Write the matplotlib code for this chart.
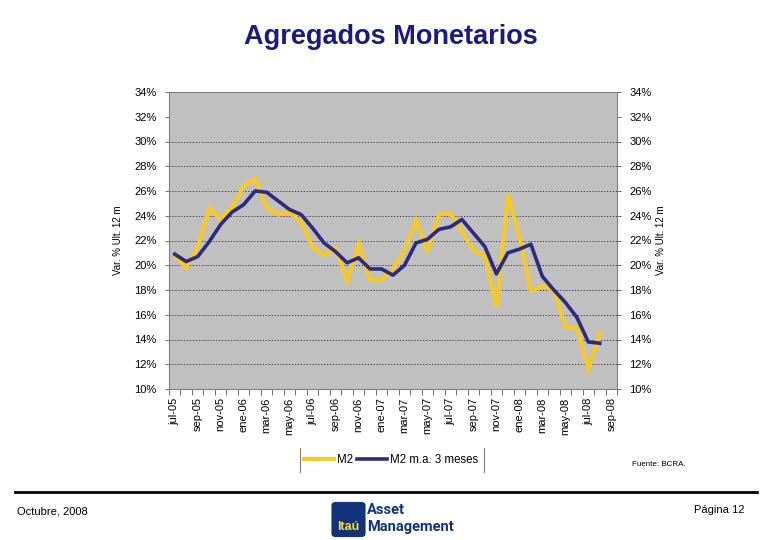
import matplotlib
matplotlib.use("Agg")
import matplotlib.pyplot as plt
import numpy as np
from matplotlib.lines import Line2D
from matplotlib.patches import FancyBboxPatch

plt.rcParams['font.family'] = ['Liberation Sans', 'DejaVu Sans']

months = ["jul-05", "ago-05", "sep-05", "oct-05", "nov-05", "dic-05",
          "ene-06", "feb-06", "mar-06", "abr-06", "may-06", "jun-06",
          "jul-06", "ago-06", "sep-06", "oct-06", "nov-06", "dic-06",
          "ene-07", "feb-07", "mar-07", "abr-07", "may-07", "jun-07",
          "jul-07", "ago-07", "sep-07", "oct-07", "nov-07", "dic-07",
          "ene-08", "feb-08", "mar-08", "abr-08", "may-08", "jun-08",
          "jul-08", "ago-08", "sep-08"]

m2 = [20.8, 19.8, 21.5, 24.6, 23.7, 24.7, 26.4, 27.0, 24.6, 24.1,
      24.3, 23.5, 21.4, 20.8, 21.4, 18.7, 21.7, 18.8, 18.8, 19.7,
      21.2, 23.6, 21.2, 24.1, 24.2, 22.7, 21.2, 20.7, 16.6, 25.7,
      22.2, 17.9, 18.3, 18.0, 15.0, 14.9, 11.6, 14.5, np.nan]

m2_ma3 = [20.9, 20.3, 20.7, 21.9, 23.3, 24.3, 24.9, 26.0, 25.9, 25.2,
          24.5, 24.1, 23.0, 21.8, 21.1, 20.2, 20.6, 19.7, 19.7, 19.2,
          20.0, 21.8, 22.1, 22.9, 23.1, 23.7, 22.6, 21.5, 19.3, 21.0,
          21.3, 21.7, 19.1, 18.0, 17.0, 15.8, 13.8, 13.7, np.nan]

y_ticks = list(range(10, 36, 2))
grid_vals = list(range(12, 31, 2))

YELLOW = '#F7C927'
BLUE = '#2D2B7E'

fig = plt.figure(figsize=(7.8, 5.4), dpi=100)
ax = fig.add_axes([169/780, 1-389/540, 448/780, 297/540])
ax.set_facecolor('#C0C0C0')

x = np.arange(len(months))
ax.plot(x, m2, color=YELLOW, lw=3.0, solid_joinstyle='miter', zorder=3, label='M2')
ax.plot(x, m2_ma3, color=BLUE, lw=2.6, zorder=4, label='M2 m.a. 3 meses')

for g in grid_vals:
    ax.axhline(g, color='#333333', lw=0.7, ls=(0, (1.2, 1.8)), zorder=1)

ax.set_xlim(-0.5, len(months) - 0.5)
ax.set_ylim(10, 34)
ax.set_yticks(y_ticks)
ax.set_yticklabels([f"{v}%" for v in y_ticks], fontsize=8)
ax.tick_params(axis='y', which='both', left=True, right=True, labelleft=True,
               labelright=True, length=3, width=0.6, color='#555555', pad=6)

ax.set_xticks(x[::2])
ax.set_xticklabels(months[::2], rotation=90, fontsize=8)
ax.set_xticks(np.arange(-0.5, len(months) + 0.5, 1), minor=True)
ax.tick_params(axis='x', which='major', length=0, pad=6)
ax.tick_params(axis='x', which='minor', length=4, width=0.6, color='#555555', direction='out')

for s in ax.spines.values():
    s.set_color('#808080')
    s.set_linewidth(0.8)

fig.text(118/780, 1-240/540, "Var. % Ult. 12 m", rotation=90, fontsize=7,
         ha='center', va='center')
fig.text(661/780, 1-240/540, "Var. % Ult. 12 m", rotation=90, fontsize=7,
         ha='center', va='center')

fig.text(391/780, 1-37/540, "Agregados Monetarios", fontsize=19.5, fontweight='bold',
         color='#1A1A80', ha='center', va='center')

leg = fig.legend(handles=[Line2D([], [], color=YELLOW, lw=3),
                          Line2D([], [], color=BLUE, lw=2.6)],
                 labels=['M2', 'M2 m.a. 3 meses'], ncol=2, frameon=False,
                 loc='center', bbox_to_anchor=(391/780, 1-460/540),
                 fontsize=8.3, handlelength=2.6, handletextpad=0.3,
                 columnspacing=0.3)
fig.add_artist(Line2D([300/780, 300/780], [1-448/540, 1-472/540], color='#808080', lw=0.8))
fig.add_artist(Line2D([484/780, 484/780], [1-448/540, 1-472/540], color='#808080', lw=0.8))

fig.text(632/780, 1-465/540, "Fuente: BCRA.", fontsize=5.8, ha='left', va='center')

fig.add_artist(Line2D([15/780, 757/780], [1-492/540, 1-492/540], color='black', lw=2))
fig.text(17/780, 1-512/540, "Octubre, 2008", fontsize=8, ha='left', va='center')
fig.text(745/780, 1-510/540, "Página 12", fontsize=8, ha='right', va='center')

# logo
logo = FancyBboxPatch((333/780, 1-536/540), 31/780, 33/540,
                      boxstyle="round,pad=0.002,rounding_size=0.006",
                      transform=fig.transFigure, facecolor='#12337A',
                      edgecolor='none')
fig.add_artist(logo)
fig.text(348.5/780, 1-527/540, "Itaú", fontsize=9, fontweight='bold',
         color='#F5E12A', ha='center', va='center')
fig.text(367/780, 1-510/540, "Asset", fontsize=10.5, fontweight='bold',
         color='#12337A', ha='left', va='center', family=['Roboto', 'DejaVu Sans'])
fig.text(367/780, 1-527/540, "Management", fontsize=10.5, fontweight='bold',
         color='#12337A', ha='left', va='center', family=['Roboto', 'DejaVu Sans'])

fig.savefig("out.png", dpi=100)
